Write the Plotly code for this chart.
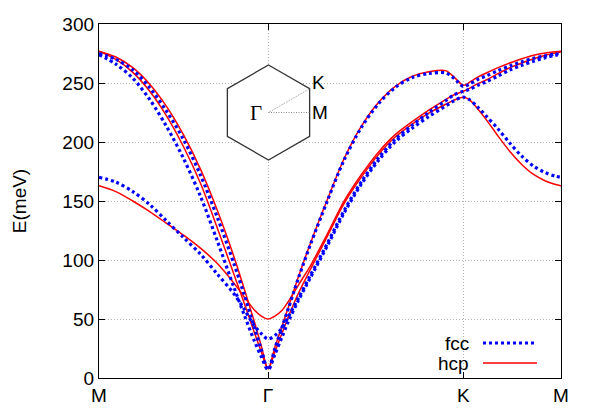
import plotly.graph_objects as go

# ---- k-path coordinates (M-Γ = 1, Γ-K = 2/√3, K-M = 1/√3) ----
k_MG = [0, 0.1, 0.2, 0.3, 0.4, 0.5, 0.6, 0.7, 0.8, 0.86, 0.92, 0.96, 1.0]
k_GK = [1.0, 1.04, 1.08, 1.12, 1.18, 1.25, 1.35, 1.45, 1.55, 1.65, 1.75, 1.85, 1.95, 2.05, 2.10, 2.1547]
k_KM = [2.1547, 2.19, 2.24, 2.29, 2.36, 2.43, 2.50, 2.57, 2.64, 2.70, 2.7321]

tick_pos = [0, 1.0, 2.1547, 2.7321]
tick_labels = ["M", "Γ", "K", "M"]

# ---- hcp (red) energies in meV ----
hcp_MG_1 = [163, 158, 150, 141, 131, 121, 110, 97, 80, 68.5, 57.5, 52.5, 50]
hcp_MG_2 = [277, 270, 259, 243, 222, 196, 165, 127, 87, 63, 38, 22, 8]
hcp_MG_3 = [277, 272, 263, 249, 230, 206, 177, 142, 102, 75, 47, 27, 8]
hcp_GK_1 = [50, 52.5, 57, 65, 79, 95, 122, 150, 172, 191, 206, 217, 227, 236, 240, 243]
hcp_GK_2 = [8, 22, 37, 52, 72, 92, 120, 148, 170, 189, 204, 215, 224.5, 232, 235.5, 238]
hcp_GK_3 = [8, 26, 43, 60, 86, 114, 151, 186, 213, 233, 247, 255.5, 259.5, 260.5, 255, 248]
hcp_KM_1 = [243, 245.5, 249.5, 252.5, 258, 263, 267, 270.5, 273.5, 275.5, 276.5]
hcp_KM_2 = [238, 236, 228, 219, 205, 192, 181, 172.5, 167, 164, 163]
hcp_KM_3 = [248, 250.5, 255, 258.5, 263, 267, 270.5, 273.5, 275.5, 276.5, 277]

# ---- fcc (blue) energies in meV ----
fcc_MG_1 = [170, 166, 158, 147, 133, 119, 105, 88, 71, 58, 44, 37.5, 33]
fcc_MG_2 = [274, 266, 254, 236, 213, 186, 154, 116, 76, 53, 31, 18, 7]
fcc_MG_3 = [275, 270, 261, 246, 226, 202, 172, 136, 96, 70, 42, 24, 7]
fcc_GK_1 = [33, 36, 42, 52, 68, 87, 114, 142, 166, 186, 202, 214, 225, 235, 240, 243]
fcc_GK_2 = [7, 20, 34, 48, 66, 85, 112, 140, 164, 184, 200, 211.5, 221.5, 230.5, 235, 238]
fcc_GK_3 = [7, 25, 42, 59, 85, 113, 150, 185, 212, 232, 246, 254.5, 258, 258.5, 254, 247]
fcc_KM_1 = [243, 244.5, 248, 251, 256, 261, 265, 268.5, 271.5, 273.5, 274]
fcc_KM_2 = [238, 236, 229.5, 222, 211, 199, 188, 179.5, 174, 171, 170]
fcc_KM_3 = [247, 249, 253, 256, 260.5, 264.5, 268, 271, 273, 274.5, 275]


def band(mg, gk, km):
    x = k_MG + k_GK[1:] + k_KM[1:]
    y = mg + gk[1:] + km[1:]
    return x, y


fig = go.Figure()

hcp_bands = [band(hcp_MG_1, hcp_GK_1, hcp_KM_1),
             band(hcp_MG_2, hcp_GK_2, hcp_KM_2),
             band(hcp_MG_3, hcp_GK_3, hcp_KM_3)]
fcc_bands = [band(fcc_MG_1, fcc_GK_1, fcc_KM_1),
             band(fcc_MG_2, fcc_GK_2, fcc_KM_2),
             band(fcc_MG_3, fcc_GK_3, fcc_KM_3)]

FCC_DASH = "3px,3px"
FCC_W = 3.2

for x, y in hcp_bands:
    fig.add_trace(go.Scatter(x=x, y=y, mode="lines", name="hcp", showlegend=False,
                             line=dict(color="#ff0000", width=1.5, shape="spline", smoothing=0.9)))
for x, y in fcc_bands:
    fig.add_trace(go.Scatter(x=x, y=y, mode="lines", name="fcc", showlegend=False,
                             line=dict(color="#0000ff", width=FCC_W, dash=FCC_DASH,
                                       shape="spline", smoothing=0.9)))

# plot area in pixels
L, R, T, B = 99, 561, 24, 378


def px(xp):
    return (xp - L) / (R - L)


def py(yp):
    return (B - yp) / (B - T)


shapes = []
annotations = []

font_main = dict(family="Liberation Sans, Arial, sans-serif", size=19, color="#000")

# manual legend (labels to the left of samples)
for lab, ypix, col, dash, w in [("fcc", 343, "#0000ff", FCC_DASH, FCC_W),
                                ("hcp", 363, "#ff0000", "solid", 1.5)]:
    annotations.append(dict(x=px(471), y=py(ypix), xref="paper", yref="paper", text=lab,
                            showarrow=False, xanchor="right", yanchor="middle", font=font_main))
    shapes.append(dict(type="line", xref="paper", yref="paper", x0=px(483), x1=px(537),
                       y0=py(ypix), y1=py(ypix), line=dict(color=col, width=w, dash=dash)))

# inset hexagon (Brillouin zone)
cx, cy, Rh = 268.5, 112.5, 47.5
hw = Rh * 3 ** 0.5 / 2
verts = [(cx, cy - Rh), (cx + hw, cy - Rh / 2), (cx + hw, cy + Rh / 2),
         (cx, cy + Rh), (cx - hw, cy + Rh / 2), (cx - hw, cy - Rh / 2)]
path = "M " + " L ".join(f"{px(a):.5f},{py(b):.5f}" for a, b in verts) + " Z"
shapes.append(dict(type="path", xref="paper", yref="paper", path=path,
                   line=dict(color="#333333", width=1.3), fillcolor="rgba(255,255,255,1)",
                   layer="above"))
shapes.append(dict(type="line", xref="paper", yref="paper", x0=px(cx), y0=py(cy),
                   x1=px(cx + hw), y1=py(cy - Rh / 2),
                   line=dict(color="#999999", width=1, dash="1px,1px"), layer="above"))
shapes.append(dict(type="line", xref="paper", yref="paper", x0=px(cx), y0=py(cy),
                   x1=px(cx + hw), y1=py(cy),
                   line=dict(color="#888888", width=1.2, dash="1px,1.5px"), layer="above"))
annotations.append(dict(x=px(264), y=py(113), xref="paper", yref="paper", text="Γ",
                        showarrow=False, xanchor="right", yanchor="middle",
                        font=dict(family="Liberation Serif, Times New Roman, serif", size=21, color="#000")))
annotations.append(dict(x=px(310), y=py(83), xref="paper", yref="paper", text="K",
                        showarrow=False, xanchor="left", yanchor="middle", font=font_main))
annotations.append(dict(x=px(310), y=py(113), xref="paper", yref="paper", text="M",
                        showarrow=False, xanchor="left", yanchor="middle", font=font_main))

fig.update_layout(
    width=598, height=419,
    margin=dict(l=L, r=598 - R, t=T, b=419 - B),
    paper_bgcolor="white", plot_bgcolor="white",
    showlegend=False,
    font=font_main,
    shapes=shapes,
    annotations=annotations,
)
grid = dict(showgrid=True, gridcolor="#b4b4b4", griddash="1px,2px", gridwidth=1)
fig.update_xaxes(range=[0, 2.7321], tickvals=tick_pos, ticktext=tick_labels, **grid,
                 ticks="inside", ticklen=6, tickcolor="#000", showline=True, linecolor="#000",
                 linewidth=1.3, mirror="ticks", zeroline=False, tickfont=font_main)
fig.update_yaxes(range=[0, 300], tickvals=[0, 50, 100, 150, 200, 250, 300], **grid,
                 ticks="inside", ticklen=6, tickcolor="#000", showline=True, linecolor="#000",
                 linewidth=1.3, mirror="ticks", zeroline=False, tickfont=font_main,
                 title=dict(text="E(meV)", font=font_main, standoff=30))

fig.write_html("out.html", config={"displayModeBar": False},
               post_script="document.body.style.margin='0';document.documentElement.style.margin='0';")
